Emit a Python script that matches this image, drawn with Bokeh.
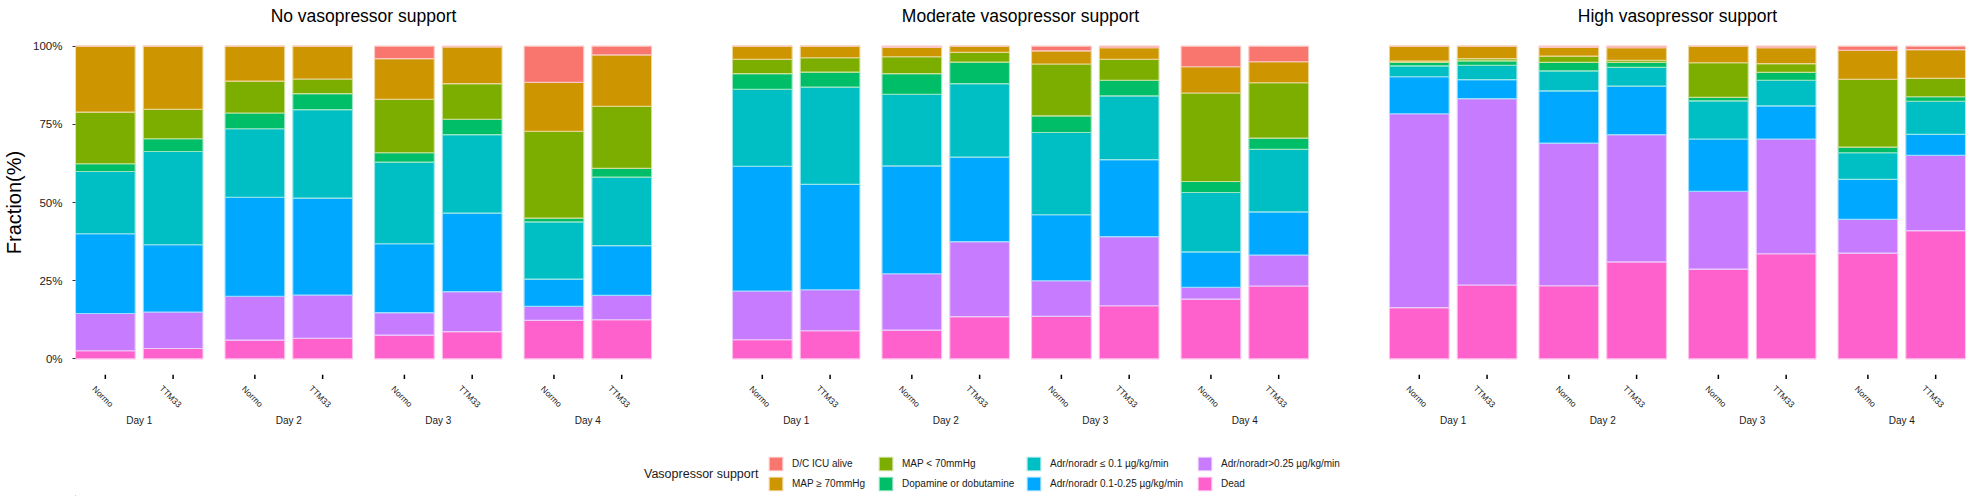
import math
from bokeh.plotting import figure
from bokeh.layouts import column
from bokeh.core.properties import value
from bokeh.models import (ColumnDataSource, FactorRange, Range1d, Legend, LegendItem,
                          Label, FixedTicker, PrintfTickFormatter)
from bokeh.embed import file_html
from bokeh.resources import INLINE

# ---------------- data ----------------
panels = ["No vasopressor support", "Moderate vasopressor support", "High vasopressor support"]
days = ["Day 1", "Day 2", "Day 3", "Day 4"]
arms = ["Normo", "TTM33"]

series = ["D/C ICU alive", "MAP ≥ 70mmHg", "MAP < 70mmHg", "Dopamine or dobutamine",
          "Adr/noradr ≤ 0.1 µg/kg/min", "Adr/noradr 0.1-0.25 µg/kg/min",
          "Adr/noradr>0.25 µg/kg/min", "Dead"]
colors = ["#F8766D", "#CD9600", "#7CAE00", "#00BE67", "#00BFC4", "#00A9FF", "#C77CFF", "#FF61CC"]

# values in %, order: panel -> day -> arm (Normo, TTM33)
dc_alive = [0, 0, 0, 0, 4.0, 0.3, 11.6, 2.8,
            0, 0, 0.4, 0, 1.5, 0.5, 6.6, 5.0,
            0, 0, 0.4, 0.5, 0, 0.5, 1.3, 1.1]
map_ge70 = [21.1, 20.2, 11.2, 10.5, 13.0, 11.7, 15.6, 16.4,
            4.2, 3.7, 3.0, 2.0, 4.2, 3.7, 8.4, 6.7,
            4.8, 4.0, 2.8, 4.0, 5.3, 5.1, 9.3, 9.2]
map_lt70 = [16.5, 9.4, 10.2, 4.7, 17.1, 11.4, 27.8, 19.9,
            4.6, 4.6, 5.4, 3.1, 16.6, 6.7, 28.3, 17.7,
            0.4, 0.7, 2.0, 0.7, 11.1, 2.8, 21.7, 5.9]
dopa_dobu = [2.5, 4.1, 5.0, 5.1, 3.0, 4.9, 1.2, 2.8,
             5.0, 4.8, 6.6, 6.9, 5.3, 5.0, 3.5, 3.6,
             1.1, 1.4, 2.7, 1.6, 1.1, 2.5, 1.8, 1.4]
adr_le01 = [19.9, 29.8, 21.9, 28.3, 26.1, 25.1, 18.3, 21.9,
            24.6, 31.1, 22.9, 23.5, 26.3, 20.4, 19.0, 20.0,
            3.5, 4.6, 6.4, 6.0, 12.2, 8.2, 8.5, 10.6]
adr_01_025 = [25.5, 21.5, 31.7, 31.0, 22.0, 25.1, 8.7, 15.9,
              39.9, 33.7, 34.5, 27.0, 21.1, 24.6, 11.3, 13.8,
              11.8, 6.1, 16.7, 15.5, 16.7, 10.6, 12.8, 6.7]
adr_gt025 = [11.9, 11.7, 14.0, 13.8, 7.2, 12.8, 4.5, 7.8,
             15.6, 13.1, 18.0, 24.0, 11.4, 22.1, 3.8, 9.9,
             62.0, 59.6, 45.6, 40.7, 24.9, 36.7, 10.8, 24.1]
dead = [2.6, 3.3, 6.0, 6.6, 7.6, 8.7, 12.3, 12.5,
        6.1, 9.0, 9.2, 13.5, 13.6, 17.0, 19.1, 23.3,
        16.4, 23.6, 23.4, 31.0, 28.7, 33.6, 33.8, 41.0]

y_ticks = [0, 25, 50, 75, 100]
y_title = "Fraction(%)"
legend_title = "Vasopressor support"

# ---------------- build ----------------
FONT = "Liberation Sans"
TXT = "#1a1a1a"
SUBPAD = 0.206
GRPPAD = 1.074
LEFT, RIGHT, FW = 71, 7, 1890

factors = [(pn, d, a) for pn in panels for d in days for a in arms]
cols = ["dc", "ge70", "lt70", "dopa", "le01", "mid", "gt025", "dead"]
values = [dc_alive, map_ge70, map_lt70, dopa_dobu, adr_le01, adr_01_025, adr_gt025, dead]
src = ColumnDataSource(dict(x=factors, **{c: v for c, v in zip(cols, values)}))


def tint(hexc, f=0.6):
    r, g, b = (int(hexc[i:i + 2], 16) for i in (1, 3, 5))
    r, g, b = (round(c + (255 - c) * f) for c in (r, g, b))
    return "#%02x%02x%02x" % (r, g, b)


def strip(xrange, yrange, fh, fw=FW, left=LEFT, right=RIGHT):
    f = figure(x_range=xrange, y_range=yrange, frame_width=fw, frame_height=fh,
               min_border_left=left, min_border_right=right, min_border_top=0,
               min_border_bottom=0, x_axis_location=None, y_axis_location=None,
               output_backend="svg", toolbar_location=None)
    f.outline_line_color = None
    f.xgrid.visible = False
    f.ygrid.visible = False
    return f


def style_legend(lg, size="10px", gw=17, standoff=8):
    lg.label_text_font = FONT
    lg.label_text_font_size = size
    lg.label_text_color = TXT
    lg.glyph_width = gw
    lg.glyph_height = 17
    lg.label_height = 17
    lg.label_standoff = standoff
    lg.spacing = 3
    lg.padding = 0
    lg.margin = 0
    lg.border_line_color = None
    lg.background_fill_alpha = 0


xr = FactorRange(*factors, factor_padding=0.0, subgroup_padding=SUBPAD, group_padding=GRPPAD,
                 range_padding=-0.06, range_padding_units="absolute")

# ---- facet titles strip (page y 0..30) ----
pt = strip(xr, Range1d(30, 0), 30)
panel_span = 2 * len(days) + SUBPAD * (len(days) - 1)
for i, pn in enumerate(panels):
    cx = i * (panel_span + GRPPAD) + panel_span / 2
    pt.add_layout(Label(x=cx, y=15, text=pn, text_align="center", text_baseline="middle",
                        text_font=FONT, text_font_size="17.5px", text_color="black"))

# ---- main chart (page y 30..374) ----
p = figure(x_range=xr, y_range=Range1d(-5, 105), frame_width=FW, frame_height=344,
           min_border_left=LEFT, min_border_right=RIGHT, min_border_top=0, min_border_bottom=0,
           x_axis_location=None, output_backend="svg", toolbar_location=None)
p.outline_line_color = None
p.xgrid.visible = False
p.ygrid.visible = False

stack_cols = cols[::-1]
stack_colors = colors[::-1]
p.vbar_stack(stack_cols, x="x", width=0.88, source=src,
             fill_color=stack_colors,
             line_color=[tint(c) for c in stack_colors],
             line_width=1.1)

ya = p.yaxis[0]
ya.ticker = FixedTicker(ticks=y_ticks)
ya.formatter = PrintfTickFormatter(format="%d%%")
ya.axis_line_color = None
ya.major_tick_in = 0
ya.major_tick_out = 3
ya.major_tick_line_color = "#333333"
ya.minor_tick_line_color = None
ya.major_label_standoff = 10
ya.major_label_text_font = FONT
ya.major_label_text_font_size = "11.5px"
ya.major_label_text_color = TXT
ya.axis_label = y_title
ya.axis_label_standoff = 5
ya.axis_label_text_font = FONT
ya.axis_label_text_font_size = "20px"
ya.axis_label_text_font_style = "normal"
ya.axis_label_text_color = "black"

# ---- x-axis strip (page y 374..440): ticks, arm labels, day labels ----
px = strip(xr, Range1d(66, 0), 66)
tick_src = ColumnDataSource(dict(x=factors, arm=[f[2] for f in factors]))
px.segment(x0="x", x1="x", y0=0, y1=4.5, source=tick_src, line_color="black", line_width=1.5)
px.text(x="x", y=22, text="arm", source=tick_src, angle=-math.pi / 4, x_offset=-2.5,
        text_align="center", text_baseline="middle", text_font=value(FONT),
        text_font_size="8.5px", text_color=TXT)
day_factors = [(pn, d) for pn in panels for d in days]
day_src = ColumnDataSource(dict(x=day_factors, day=[f[1] for f in day_factors]))
px.text(x="x", y=46, text="day", source=day_src, text_align="center",
        text_baseline="middle", text_font=value(FONT), text_font_size="10px", text_color=TXT)

# ---- legend strip (page y 440..496) ----
pl = strip(Range1d(0, 1968), Range1d(0, 56), 56, fw=1968, left=0, right=0)
renderers = []
for c in colors:
    # one-row proxy renderer (outside the visible range) so the legend key has a fill
    renderers.append(pl.vbar(x=[-500], top=[1], width=1, fill_color=c, line_color=tint(c),
                             line_width=1.1))
# legend title, placed as a key-less legend entry so it shares the legends' coordinates
title_proxy = pl.vbar(x=[-500], top=[1], width=1, fill_alpha=0, line_alpha=0)
tl = Legend(items=[LegendItem(label=legend_title, renderers=[title_proxy])],
            orientation="vertical", location=(643, 13.5))
style_legend(tl, size="12.5px", gw=1, standoff=0)
pl.add_layout(tl, "center")

legend_cols_x = [767, 877, 1025, 1196]
for j, lx in enumerate(legend_cols_x):
    its = [LegendItem(label=series[k], renderers=[renderers[k]]) for k in (2 * j, 2 * j + 1)]
    lg = Legend(items=its, orientation="vertical", location=(lx, 4))
    style_legend(lg)
    pl.add_layout(lg, "center")

layout = column(pt, p, px, pl, spacing=0)
open("out.html", "w").write(file_html(layout, INLINE))
